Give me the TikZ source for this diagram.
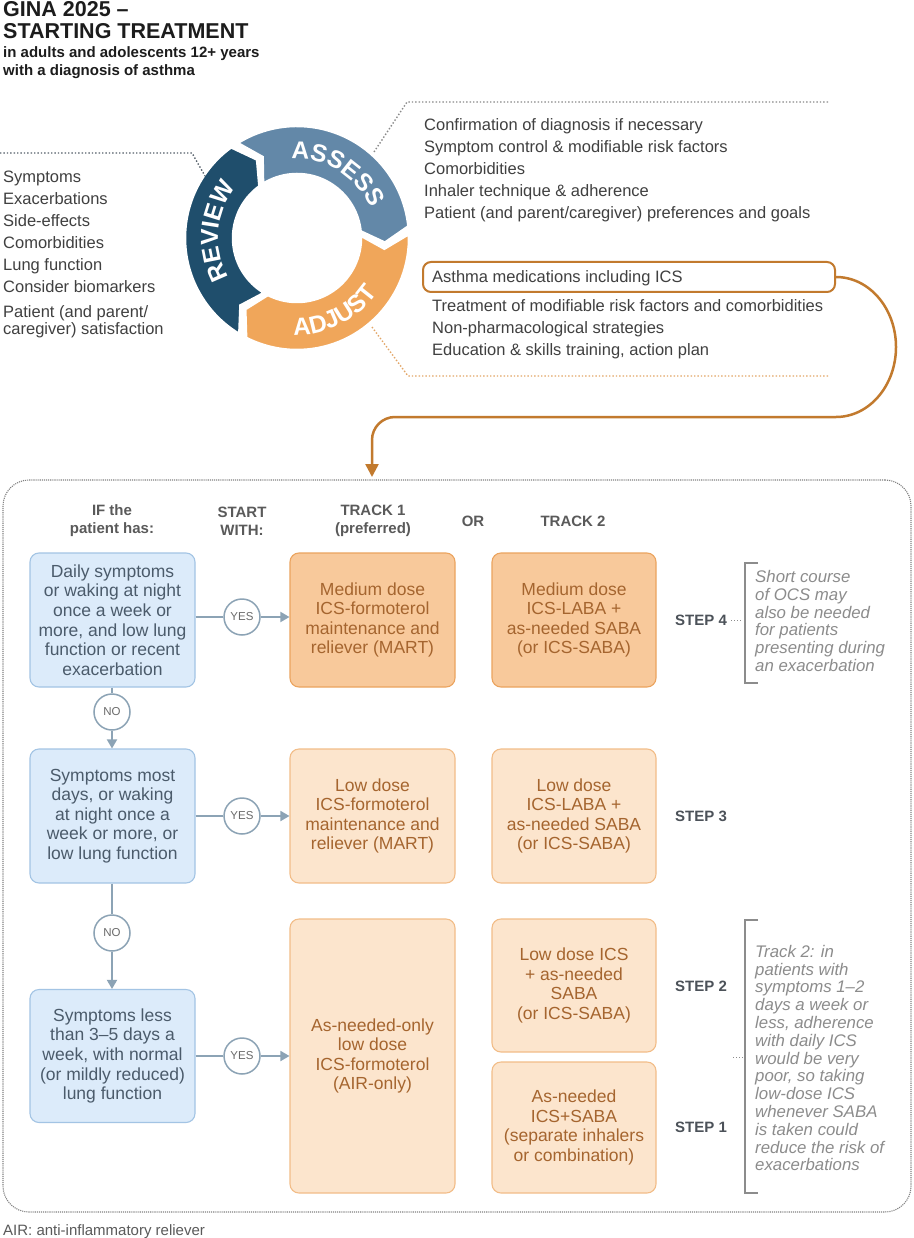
\documentclass[tikz,border=0pt]{standalone}
\usepackage{fontspec}
\setmainfont{Liberation Sans}
\usetikzlibrary{decorations.text, arrows.meta}
\definecolor{titlec}{HTML}{1C1C1C}
\definecolor{txt}{HTML}{404040}
\definecolor{hdr}{HTML}{5A5A5A}
\definecolor{assessc}{HTML}{6388A8}
\definecolor{adjustc}{HTML}{F0A65A}
\definecolor{reviewc}{HTML}{1F4E6C}
\definecolor{orl}{HTML}{C27A2E}
\definecolor{orleader}{HTML}{E3A667}
\definecolor{grleader}{HTML}{8A8A8A}
\definecolor{rvleader}{HTML}{55606A}
\definecolor{bluefill}{HTML}{DCEBFA}
\definecolor{blueline}{HTML}{A3C4E4}
\definecolor{bluetxt}{HTML}{4B5B6B}
\definecolor{oronefill}{HTML}{F8C99B}
\definecolor{oroneline}{HTML}{EBA45F}
\definecolor{ortwofill}{HTML}{FCE5CD}
\definecolor{ortwoline}{HTML}{F2BD88}
\definecolor{ortxt}{HTML}{A5652F}
\definecolor{connc}{HTML}{8CA3B5}
\definecolor{circtxt}{HTML}{6A6A6A}
\definecolor{notec}{HTML}{8C8C8C}
\definecolor{steptxt}{HTML}{4C5259}
\definecolor{bigline}{HTML}{808080}
\tikzset{
  lst/.style={anchor=base west, inner sep=0pt, font=\fontsize{16.5}{19}\selectfont, text=txt},
  hdrtxt/.style={align=center, inner sep=0pt, font=\fontsize{15}{18}\selectfont\bfseries, text=hdr},
  bluebox/.style={rounded corners=9pt, minimum width=165pt, minimum height=134pt, align=center, inner sep=2pt, line width=1.1pt, fill=bluefill, draw=blueline, text=bluetxt, font=\fontsize{17.5}{19.6}\selectfont},
  oronebox/.style={rounded corners=9pt, minimum width=165pt, minimum height=134pt, align=center, inner sep=2pt, line width=1.1pt, fill=oronefill, draw=oroneline, text=ortxt, font=\fontsize{17.5}{19.6}\selectfont},
  ortwobox/.style={rounded corners=9pt, minimum width=165pt, minimum height=134pt, align=center, inner sep=2pt, line width=1.1pt, fill=ortwofill, draw=ortwoline, text=ortxt, font=\fontsize{17.5}{19.6}\selectfont},
  yesno/.style={circle, draw=connc, line width=1.5pt, fill=white, minimum size=36pt, inner sep=0pt, font=\fontsize{11.5}{11.5}\selectfont, text=circtxt},
  conn/.style={draw=connc, line width=1.8pt},
  connarrow/.style={draw=connc, line width=1.8pt, -{Triangle[length=9pt,width=10pt]}},
  steplbl/.style={inner sep=0pt, font=\fontsize{15}{15}\selectfont\bfseries, text=steptxt},
  notetxt/.style={anchor=west, align=left, inner sep=0pt, font=\fontsize{16.8}{17.8}\selectfont\itshape, text=notec},
  bracketst/.style={draw=notec, line width=1.3pt},
  smalldots/.style={draw=notec, dotted, line width=1pt},
  leader/.style={dotted, line width=1.4pt},
  ringtext/.style={decorate, decoration={text along path, text align=center, text color=white, text={|\fontsize{24.5}{24.5}\selectfont\bfseries|#1}}}
}
\begin{document}
\begin{tikzpicture}[x=1pt, y=-1pt]
\useasboundingbox (0,0) rectangle (913,1238);
\fill[white] (0,0) rectangle (913,1238);

% title
\node[anchor=base west, inner sep=0pt, font=\fontsize{21.5}{21.5}\selectfont\bfseries, text=titlec] (ti1) at (3,17) {GINA 2025 –};
\node[anchor=base west, inner sep=0pt, font=\fontsize{21.5}{21.5}\selectfont\bfseries, text=titlec] (ti2) at (3,39) {STARTING TREATMENT};
\node[anchor=base west, inner sep=0pt, font=\fontsize{15}{15}\selectfont\bfseries, text=titlec] (ti3) at (3,58) {in adults and adolescents 12+ years};
\node[anchor=base west, inner sep=0pt, font=\fontsize{15}{15}\selectfont\bfseries, text=titlec] (ti4) at (3,76) {with a diagnosis of asthma};

% cycle
\begin{scope}[shift={(297,238)}]
  \filldraw[fill=assessc, draw=white, line width=2.5pt] (122:112pt) arc[start angle=122, end angle=6, radius=112pt] -- (-3:88pt) -- (6:64pt) arc[start angle=6, end angle=122, radius=64pt] -- (113:88pt) -- cycle;
  \filldraw[fill=adjustc, draw=white, line width=2.5pt] (2:112pt) arc[start angle=2, end angle=-117, radius=112pt] -- (-126:88pt) -- (-117:64pt) arc[start angle=-117, end angle=2, radius=64pt] -- (-7:88pt) -- cycle;
  \filldraw[fill=reviewc, draw=white, line width=2.5pt] (-121:112pt) arc[start angle=-121, end angle=-234, radius=112pt] -- (-243:88pt) -- (-234:64pt) arc[start angle=-234, end angle=-121, radius=64pt] -- (-130:88pt) -- cycle;
  \path[ringtext=ASSESS] (108:79pt) arc[start angle=108, end angle=8, radius=79pt];
  \path[ringtext=ADJUST] (-113:97pt) arc[start angle=-113, end angle=-13, radius=97pt];
  \path[ringtext=REVIEW] (225:79pt) arc[start angle=225, end angle=125, radius=79pt];
\end{scope}

% leaders
\coordinate (rv1) at (0,153); \coordinate (rv2) at (192,153); \coordinate (rv3) at (205,176);
\draw[leader, rvleader] (rv1) -- (rv2) -- (rv3);
\coordinate (as1) at (828,102); \coordinate (as2) at (407,102); \coordinate (as3) at (374,152);
\draw[leader, grleader] (as1) -- (as2) -- (as3);
\coordinate (ad1) at (372,327); \coordinate (ad2) at (408,376); \coordinate (ad3) at (828,376);
\draw[leader, orleader] (ad1) -- (ad2) -- (ad3);

% review list
\node[lst] (r1) at (3,183) {Symptoms};
\node[lst] (r2) at (3,205) {Exacerbations};
\node[lst] (r3) at (3,227) {Side-effects};
\node[lst] (r4) at (3,249) {Comorbidities};
\node[lst] (r5) at (3,271) {Lung function};
\node[lst] (r6) at (3,293) {Consider biomarkers};
\node[lst] (r7) at (3,317) {Patient (and parent/};
\node[lst] (r8) at (3,334) {caregiver) satisfaction};

% assess list
\node[lst] (a1) at (424,131) {Confirmation of diagnosis if necessary};
\node[lst] (a2) at (424,153) {Symptom control \& modifiable risk factors};
\node[lst] (a3) at (424,175) {Comorbidities};
\node[lst] (a4) at (424,197) {Inhaler technique \& adherence};
\node[lst] (a5) at (424,219) {Patient (and parent/caregiver) preferences and goals};

% adjust list
\node[draw=orl, line width=2pt, rounded corners=8pt, minimum width=412pt, minimum height=30pt, inner sep=0pt] (adjbox) at (629,277) {};
\node[lst] (j1) at (432,283) {Asthma medications including ICS};
\node[lst] (j2) at (432,311) {Treatment of modifiable risk factors and comorbidities};
\node[lst] (j3) at (432,333) {Non-pharmacological strategies};
\node[lst] (j4) at (432,355) {Education \& skills training, action plan};

% big dotted frame
\node[draw=bigline, densely dotted, line width=1.1pt, rounded corners=26pt, minimum width=908pt, minimum height=732pt, inner sep=0pt] (bigbox) at (457,846) {};

% orange connector
\coordinate (arrowend) at (372,477);
\draw[orl, line width=2.5pt, -{Triangle[length=13pt,width=13pt]}] (adjbox.east) arc[start angle=90, end angle=-90, x radius=60pt, y radius=70pt] -- (395,417) arc[start angle=90, end angle=180, radius=23pt] -- (arrowend);

% headers
\node[hdrtxt] (h1) at (112,521) {IF the\\patient has:};
\node[hdrtxt] (h2) at (242,521) {START\\WITH:};
\node[hdrtxt] (h3) at (373,521) {TRACK 1\\(preferred)};
\node[hdrtxt] (h4) at (473,521) {OR};
\node[hdrtxt] (h5) at (573,521) {TRACK 2};

% blue boxes
\node[bluebox] (b1) at (112.5,620) {Daily symptoms\\or waking at night\\once a week or\\more, and low lung\\function or recent\\exacerbation};
\node[bluebox] (b2) at (112.5,816) {Symptoms most\\days, or waking\\at night once a\\week or more, or\\low lung function};
\node[bluebox, minimum height=133pt] (b3) at (112.5,1056) {Symptoms less\\than 3–5 days a\\week, with normal\\(or mildly reduced)\\lung function};

% track 1
\node[oronebox] (t1a) at (372.5,620) {Medium dose\\ICS-formoterol\\maintenance and\\reliever (MART)};
\node[ortwobox] (t1b) at (372.5,816) {Low dose\\ICS-formoterol\\maintenance and\\reliever (MART)};
\node[ortwobox, minimum height=274pt] (t1c) at (372.5,1056) {As-needed-only\\low dose\\ICS-formoterol\\(AIR-only)};

% track 2
\node[oronebox, minimum width=164pt] (t2a) at (574,620) {Medium dose\\ICS-LABA +\\as-needed SABA\\(or ICS-SABA)};
\node[ortwobox, minimum width=164pt] (t2b) at (574,816) {Low dose\\ICS-LABA +\\as-needed SABA\\(or ICS-SABA)};
\node[ortwobox, minimum width=164pt, minimum height=133pt] (t2c) at (574,985.5) {Low dose ICS\\+ as-needed\\SABA\\(or ICS-SABA)};
\node[ortwobox, minimum width=164pt, minimum height=131pt] (t2d) at (574,1127.5) {As-needed\\ICS+SABA\\(separate inhalers\\or combination)};

% yes / no circles
\node[yesno] (y1) at (242,617) {YES};
\node[yesno] (y2) at (242,816) {YES};
\node[yesno] (y3) at (242,1056) {YES};
\node[yesno] (n1) at (112,712) {NO};
\node[yesno] (n2) at (112,933) {NO};

\draw[conn] (b1.east |- y1) -- (y1);
\draw[connarrow] (y1) -- (t1a.west |- y1);
\draw[conn] (b2.east |- y2) -- (y2);
\draw[connarrow] (y2) -- (t1b.west |- y2);
\draw[conn] (b3.east |- y3) -- (y3);
\draw[connarrow] (y3) -- (t1c.west |- y3);
\draw[conn] (b1.south -| n1) -- (n1);
\draw[connarrow] (n1) -- (b2.north -| n1);
\draw[conn] (b2.south -| n2) -- (n2);
\draw[connarrow] (n2) -- (b3.north -| n2);

% steps
\node[steplbl] (s4) at (701,620) {STEP 4};
\node[steplbl] (s3) at (701,816) {STEP 3};
\node[steplbl] (s2) at (701,986) {STEP 2};
\node[steplbl] (s1) at (701,1127) {STEP 1};

\coordinate (d4a) at (731,620); \coordinate (d4b) at (742,620);
\draw[smalldots] (d4a) -- (d4b);
\coordinate (d12a) at (733,1057); \coordinate (d12b) at (744,1057);
\draw[smalldots] (d12a) -- (d12b);

\coordinate (k4a) at (758,563); \coordinate (k4b) at (745,563); \coordinate (k4c) at (745,683); \coordinate (k4d) at (758,683);
\draw[bracketst] (k4a) -- (k4b) -- (k4c) -- (k4d);
\coordinate (k2a) at (758,920); \coordinate (k2b) at (745,920); \coordinate (k2c) at (745,1193); \coordinate (k2d) at (758,1193);
\draw[bracketst] (k2a) -- (k2b) -- (k2c) -- (k2d);

\node[notetxt] (note4) at (755,621) {Short course\\of OCS may\\also be needed\\for patients\\presenting during\\an exacerbation};
\node[notetxt] (note12) at (755,1058) {Track 2: in\\patients with\\symptoms 1–2\\days a week or\\less, adherence\\with daily ICS\\would be very\\poor, so taking\\low-dose ICS\\whenever SABA\\is taken could\\reduce the risk of\\exacerbations};

% footer
\node[anchor=base west, inner sep=0pt, font=\fontsize{15}{15}\selectfont, text=hdr] (foot) at (3,1235) {AIR: anti-inflammatory reliever};
\end{tikzpicture}
\end{document}
